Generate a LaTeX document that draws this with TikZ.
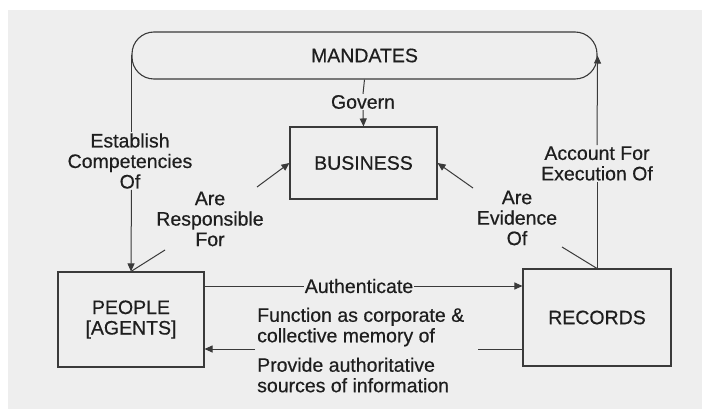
\documentclass[tikz,border=0pt]{standalone}
\usepackage{fontspec}
\setmainfont[FakeBold=0.5]{Liberation Sans}
\usetikzlibrary{arrows.meta}
\definecolor{paper}{HTML}{EEEEEE}
\definecolor{ink}{HTML}{3A3A3A}
\definecolor{txt}{HTML}{1E1E1E}
\begin{document}
\begin{tikzpicture}[x=1pt,y=-1pt,
  every node/.style={text=txt,font=\fontsize{19.5}{20.5}\selectfont},
  boxnode/.style={draw=ink,line width=1.1pt,inner sep=0pt},
  lbl/.style={align=center,inner sep=1pt},
  conn/.style={draw=ink,line width=1pt},
  arr/.style={conn,-{Triangle[length=8pt,width=7pt]}}]
\useasboundingbox (0,0) rectangle (702,409);
\fill[white] (0,0) rectangle (702,409);
\fill[paper] (8,10) rectangle (702,409);
% nodes
\node[boxnode,rounded corners=22pt,minimum width=465pt,minimum height=47pt] (mand) at (364.5,55.5) {MANDATES};
\node[boxnode,minimum width=147pt,minimum height=72pt] (bus) at (363.5,163) {BUSINESS};
\node[boxnode,minimum width=146pt,minimum height=95pt,align=center] (people) at (131,319.5) {PEOPLE\\{[AGENTS]}};
\node[boxnode,minimum width=148pt,minimum height=97pt] (rec) at (597,317.5) {RECORDS};
% labels
\node[lbl] (govern) at (363,102) {Govern};
\node[lbl] (estab) at (130,161) {Establish\\Competencies\\Of};
\node[lbl] (resp) at (210,219) {Are\\Responsible\\For};
\node[lbl] (evid) at (517,218) {Are\\Evidence\\Of};
\node[lbl] (acct) at (597,163.5) {Account For\\Execution Of};
\node[lbl] (auth) at (359,286) {Authenticate};
\node[lbl,align=left,anchor=west] (func) at (256,327) {Function as corporate \&\\collective memory of};
\node[lbl,align=left,anchor=west] (prov) at (256,375) {Provide authoritative\\sources of information};
% coordinates
\coordinate (rescoordA) at (165,250);
\coordinate (rescoordB) at (257,187);
\coordinate (evA) at (562,247);
\coordinate (evB) at (473,188);
\coordinate (botR) at (478,349);
\coordinate (botL) at (255,349);
% connectors
\draw[conn] (mand.south) -- (govern.north);
\draw[arr] (govern.south) -- (bus.north);
\draw[conn] (mand.west) -- (estab.north -| mand.west);
\draw[arr] (estab.south -| mand.west) -- (people.north);
\draw[conn] (people.north) -- (rescoordA);
\draw[arr] (rescoordB) -- (bus.west);
\draw[conn] (rec.north) -- (evA);
\draw[arr] (evB) -- (bus.east);
\draw[conn] (rec.north) -- (acct.south);
\draw[arr] (acct.north) -- (mand.east);
\draw[conn] (people.east |- auth.west) -- (auth.west);
\draw[arr] (auth.east) -- (rec.west |- auth.east);
\draw[conn] (rec.west |- botR) -- (botR);
\draw[arr] (botL) -- (people.east |- botL);
\end{tikzpicture}
\end{document}
